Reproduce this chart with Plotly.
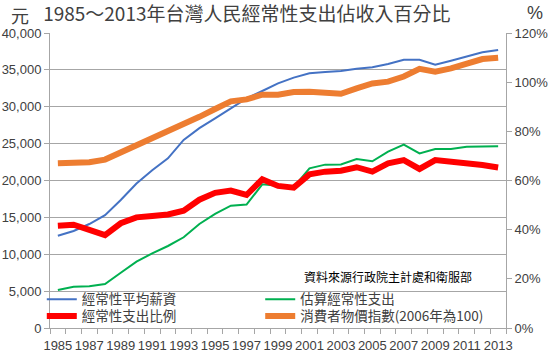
import plotly.graph_objects as go

years = list(range(1985, 2014))

# 經常性平均薪資 (元)
wage = [12500, 13150, 14100, 15300, 17350, 19600, 21400, 23000, 25500, 27100,
        28430, 29790, 31140, 32140, 33180, 33950, 34530, 34710, 34850, 35150,
        35350, 35800, 36380, 36380, 35700, 36250, 36800, 37380, 37700]

# 估算經常性支出 (元)
spend = [5150, 5600, 5650, 5970, 7500, 9000, 10120, 11120, 12300, 14100,
         15460, 16590, 16730, 19480, 19300, 19100, 21650, 22150, 22180, 22900,
         22600, 23910, 24860, 23680, 24270, 24270, 24590, 24630, 24630]

# 經常性支出比例 (%)
ratio = [41.6, 42.0, 39.9, 37.8, 42.6, 45.0, 45.6, 46.2, 47.7, 52.2,
         55.0, 55.9, 54.1, 60.5, 57.8, 57.1, 62.5, 63.6, 64.0, 65.4,
         63.6, 67.0, 68.3, 64.7, 68.3, 67.7, 67.3, 66.3, 65.3]

# 消費者物價指數 (2006年為100)
cpi = [67.0, 67.1, 67.4, 68.5, 71.4, 74.3, 76.7, 80.0, 82.4, 85.9,
       89.1, 92.2, 93.0, 94.9, 94.9, 96.0, 96.1, 95.7, 95.3, 97.5,
       99.5, 100.2, 102.3, 105.4, 104.3, 105.6, 107.2, 109.4, 109.9]

xticks = list(range(1985, 2014, 2))
font_fam = "Liberation Sans, Noto Sans CJK TC, sans-serif"
cjk = "Noto Sans CJK TC, sans-serif"

fig = go.Figure()
fig.add_trace(go.Scatter(x=years, y=wage, name="經常性平均薪資", mode="lines",
                         legend="legend", line=dict(color="#4472C4", width=2)))
fig.add_trace(go.Scatter(x=years, y=spend, name="估算經常性支出", mode="lines",
                         legend="legend2", line=dict(color="#00B050", width=2)))
fig.add_trace(go.Scatter(x=years, y=[v / 100 for v in ratio], name="經常性支出比例", mode="lines",
                         legend="legend3", yaxis="y2", line=dict(color="#FF0000", width=6)))
fig.add_trace(go.Scatter(x=years, y=[v / 100 for v in cpi], name="消費者物價指數(2006年為100)", mode="lines",
                         legend="legend4", yaxis="y2", line=dict(color="#ED7D31", width=6)))

leg_common = dict(orientation="v", yanchor="middle", xanchor="left", bgcolor="rgba(0,0,0,0)",
                  font=dict(family=cjk, size=13.5, color="#404040"), itemwidth=30,
                  borderwidth=0, tracegroupgap=0)

fig.update_layout(
    width=553, height=360,
    margin=dict(l=50, r=47, t=33, b=32, autoexpand=False),
    paper_bgcolor="white", plot_bgcolor="white",
    font=dict(family=font_fam, size=13, color="#404040"),
    showlegend=True,
    legend=dict(x=-0.018, y=0.097, **leg_common),
    legend2=dict(x=0.461, y=0.097, **leg_common),
    legend3=dict(x=-0.018, y=0.04, **leg_common),
    legend4=dict(x=0.461, y=0.04, **leg_common),
    title=dict(text="1985～2013年台灣人民經常性支出佔收入百分比", x=0.078, xanchor="left",
               y=0.96, yanchor="middle", font=dict(family=cjk, size=19, color="#404040")),
    xaxis=dict(range=[1984.5, 2013.5], tickvals=xticks, ticktext=[str(y) for y in xticks],
               ticks="", showgrid=False, showline=True, linecolor="#A6A6A6", linewidth=1,
               zeroline=False, tickangle=0, ticklabelstandoff=5,
               tickfont=dict(size=13, color="#404040"),
               minor=dict(tick0=1984.5, dtick=1, ticks="outside", ticklen=5,
                          tickcolor="#A6A6A6", showgrid=False)),
    yaxis=dict(range=[0, 40000], dtick=5000, tickformat=",", showgrid=True,
               gridcolor="#A6A6A6", gridwidth=1, showline=True, linecolor="#A6A6A6",
               ticks="outside", ticklen=5, tickcolor="#A6A6A6", zeroline=False,
               tickfont=dict(size=13, color="#404040")),
    yaxis2=dict(range=[0, 1.2], dtick=0.2, tickformat=".0%", overlaying="y", side="right",
                showgrid=False, showline=True, linecolor="#A6A6A6", ticks="outside",
                ticklen=5, tickcolor="#A6A6A6", zeroline=False,
                tickfont=dict(size=13, color="#404040")),
    annotations=[
        dict(text="資料來源行政院主計處和衛服部", xref="paper", yref="paper", x=0.741, y=0.176,
             xanchor="center", yanchor="middle", showarrow=False,
             font=dict(family=cjk, size=12, color="#000000")),
        dict(text="元", xref="paper", yref="paper", x=-0.066, y=1.061, xanchor="center",
             yanchor="middle", showarrow=False,
             font=dict(family=cjk, size=18, color="#404040")),
        dict(text="%", xref="paper", yref="paper", x=1.064, y=1.068, xanchor="center",
             yanchor="middle", showarrow=False,
             font=dict(family=font_fam, size=18, color="#404040")),
    ],
)

fig.write_html("out.html", config={"displayModeBar": False},
               post_script="document.body.style.margin='0';document.body.style.padding='0';")
